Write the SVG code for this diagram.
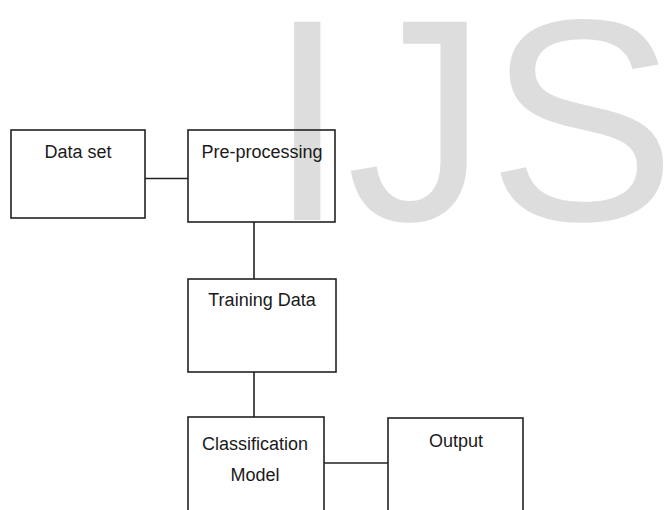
<svg xmlns="http://www.w3.org/2000/svg" width="668" height="510" viewBox="0 0 668 510">
  <style>
    .box { fill: none; stroke: #222; stroke-width: 1.6; }
    .wire { fill: none; stroke: #222; stroke-width: 1.6; }
    .label { font-family: "Liberation Sans", Arial, sans-serif; font-size: 18px; fill: #1a1a1a; text-anchor: middle; }
    .mark { font-family: "Liberation Sans", Arial, sans-serif; font-size: 288px; fill: #dddddd; }
  </style>
  <rect width="668" height="510" fill="#ffffff"/>
  <!-- background watermark -->
  <text class="mark" x="268" y="220" textLength="408" lengthAdjust="spacingAndGlyphs">IJS</text>

  <g id="connectors">
    <line class="wire" x1="145" y1="178.5" x2="188" y2="178.5"/>
    <line class="wire" x1="254" y1="222" x2="254" y2="279"/>
    <line class="wire" x1="254" y1="372" x2="254" y2="417"/>
    <line class="wire" x1="324" y1="463" x2="388" y2="463"/>
  </g>

  <g id="dataset">
    <rect class="box" x="11" y="130" width="134" height="88"/>
    <text class="label" x="78" y="158">Data set</text>
  </g>
  <g id="preprocessing">
    <rect class="box" x="188" y="130" width="147" height="92"/>
    <text class="label" x="262" y="158">Pre-processing</text>
  </g>
  <g id="training">
    <rect class="box" x="188" y="279" width="148" height="93"/>
    <text class="label" x="262" y="306">Training Data</text>
  </g>
  <g id="classification">
    <rect class="box" x="188" y="417" width="136" height="100"/>
    <text class="label" x="255" y="450">Classification</text>
    <text class="label" x="255" y="481">Model</text>
  </g>
  <g id="output">
    <rect class="box" x="388" y="418" width="135" height="100"/>
    <text class="label" x="456" y="447">Output</text>
  </g>
</svg>
